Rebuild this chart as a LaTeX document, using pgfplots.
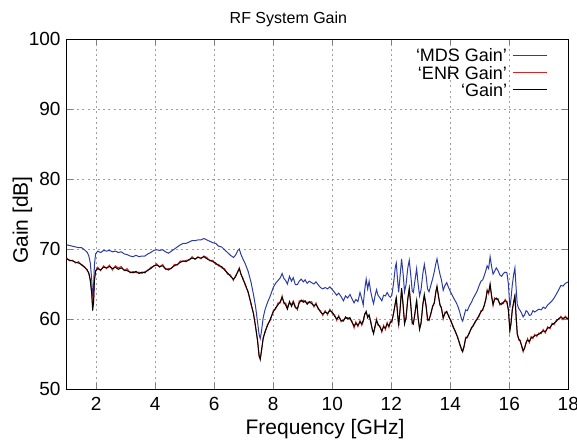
\documentclass[border=0pt]{standalone}
\usepackage{fontspec}
\setmainfont{Liberation Sans}
\usepackage{pgfplots}
\pgfplotsset{compat=1.18}
\usepackage{pgfplotstable}

\definecolor{mdsblue}{RGB}{45,60,165}
\definecolor{enrred}{RGB}{215,35,35}

% f [GHz], MDS gain, ENR gain, gain [dB]
\pgfplotstableread{
f mds enr gain
1.00 70.6 68.7 68.6
1.10 70.5 68.3 68.4
1.20 70.4 68.4 68.3
1.30 70.3 68.0 68.1
1.40 70.2 68.2 68.0
1.50 70.2 67.7 67.8
1.60 69.9 67.5 67.4
1.70 69.5 66.9 67.0
1.75 69.0 66.6 66.5
1.80 68.0 65.4 65.6
1.85 65.5 63.8 63.5
1.88 63.2 61.6 61.2
1.91 64.5 62.2 62.5
1.94 67.8 65.7 65.5
1.98 69.3 66.8 66.9
2.05 69.7 67.4 67.2
2.15 69.5 66.9 67.0
2.25 69.8 67.6 67.4
2.35 69.7 67.2 67.3
2.45 69.8 67.7 67.5
2.55 69.6 67.0 67.2
2.65 69.7 67.6 67.4
2.75 69.5 67.3 67.1
2.85 69.6 67.5 67.3
2.95 69.3 66.9 67.0
3.05 69.2 67.2 66.9
3.15 69.0 66.6 66.7
3.25 68.9 66.8 66.6
3.35 69.1 66.6 66.8
3.45 68.9 66.7 66.5
3.55 69.0 66.5 66.7
3.65 69.0 66.8 66.6
3.75 69.3 66.9 67.0
3.85 69.5 67.4 67.2
3.95 69.8 67.5 67.6
4.05 69.9 67.9 67.7
4.15 69.8 67.4 67.5
4.25 69.9 67.8 67.6
4.35 69.6 67.1 67.2
4.45 69.4 67.2 67.0
4.55 69.7 67.2 67.3
4.65 70.0 67.8 67.6
4.75 70.3 67.7 67.8
4.85 70.6 68.3 68.1
4.95 70.8 68.2 68.3
5.05 70.8 68.4 68.2
5.15 71.0 68.4 68.5
5.25 71.2 68.9 68.7
5.35 71.2 68.5 68.6
5.45 71.3 68.9 68.8
5.55 71.3 68.6 68.7
5.65 71.5 69.0 68.9
5.75 71.3 68.8 68.6
5.85 71.1 68.3 68.4
5.95 70.9 68.4 68.2
6.05 70.8 67.8 68.0
6.15 70.4 67.8 67.6
6.25 70.3 67.3 67.5
6.35 69.9 67.2 67.0
6.45 69.5 66.4 66.6
6.55 69.1 66.3 66.1
6.65 68.8 65.5 65.7
6.72 69.1 66.2 66.0
6.80 69.8 66.7 66.8
6.85 70.0 67.3 67.2
6.90 69.3 66.4 66.5
6.98 68.5 65.8 65.6
7.05 67.9 64.8 65.0
7.15 66.8 63.9 63.8
7.25 65.2 62.0 62.2
7.33 63.5 60.9 60.7
7.40 61.8 58.8 59.0
7.47 59.5 57.0 56.8
7.52 57.8 54.6 54.8
7.56 57.2 54.4 54.2
7.60 58.2 55.3 55.5
7.66 60.2 57.4 57.2
7.72 61.3 58.0 58.2
7.80 62.3 59.2 59.0
7.90 63.3 59.8 60.0
8.00 64.5 61.2 61.0
8.08 65.1 61.4 61.6
8.16 65.5 62.3 62.0
8.24 65.9 62.3 62.5
8.30 66.5 63.3 63.1
8.36 65.8 62.2 62.4
8.42 65.5 62.3 62.0
8.48 65.0 61.6 61.4
8.55 66.1 62.3 62.5
8.62 65.4 62.1 61.8
8.68 65.9 62.6 62.4
8.75 64.9 61.8 61.6
8.82 64.9 61.3 61.5
8.88 65.4 62.6 62.3
8.95 65.7 62.5 62.7
9.02 65.3 62.7 62.4
9.08 65.6 62.4 62.6
9.15 65.1 62.4 62.1
9.22 65.4 62.3 62.5
9.30 65.2 62.5 62.2
9.38 65.0 61.7 61.9
9.45 65.3 62.3 62.1
9.52 64.9 61.4 61.6
9.60 64.5 61.2 61.0
9.68 64.3 60.5 60.7
9.76 64.5 61.2 61.0
9.84 64.3 60.6 60.8
9.92 64.6 61.4 61.2
10.00 64.2 60.8 61.0
10.08 63.8 60.6 60.4
10.15 63.4 59.8 60.0
10.22 63.7 60.5 60.3
10.30 63.2 59.6 59.8
10.38 62.6 59.9 59.7
10.45 63.3 60.1 60.3
10.52 63.0 60.2 60.0
10.60 63.5 60.0 60.2
10.67 62.9 59.7 59.5
10.74 62.3 58.7 59.0
10.80 62.8 59.6 59.4
10.87 62.5 58.9 59.1
10.94 63.8 59.8 59.6
11.00 62.9 59.1 59.3
11.05 62.0 59.6 59.8
11.10 64.2 60.8 60.6
11.15 65.7 60.9 61.1
11.20 64.3 60.4 60.2
11.25 65.4 60.4 60.6
11.30 64.0 59.8 59.6
11.36 62.8 58.3 58.5
11.40 62.2 58.1 57.9
11.45 63.3 58.8 59.0
11.50 64.2 60.0 59.8
11.55 63.4 59.1 59.3
11.62 63.0 59.0 58.8
11.68 62.6 58.1 58.3
11.74 63.4 59.1 58.9
11.80 63.3 58.5 58.7
11.86 63.8 59.5 59.3
11.92 63.3 58.8 59.0
11.97 63.1 59.7 59.5
12.02 63.4 59.5 59.7
12.08 65.2 61.0 60.8
12.14 67.5 62.2 62.4
12.17 68.0 63.2 63.0
12.21 65.8 60.8 61.0
12.25 63.8 59.2 59.0
12.30 66.2 61.3 61.5
12.35 68.6 64.2 64.4
12.40 66.5 62.2 62.0
12.45 63.9 59.5 59.3
12.50 64.9 60.0 60.2
12.56 67.3 63.0 62.8
12.61 68.4 64.2 64.4
12.66 66.3 62.2 62.0
12.71 64.0 59.3 59.5
12.75 63.8 59.5 59.3
12.80 65.4 60.6 60.8
12.86 67.2 62.8 62.6
12.91 65.0 60.0 60.2
12.96 63.3 58.7 58.5
13.01 64.2 59.3 59.5
13.07 66.5 62.2 62.0
13.12 67.8 63.3 63.5
13.18 66.2 62.0 61.8
13.23 64.3 59.8 60.0
13.28 63.9 60.0 59.8
13.34 64.8 60.6 60.8
13.40 65.7 61.9 61.7
13.46 66.8 62.2 62.4
13.51 67.9 64.0 63.8
13.55 68.6 64.5 64.7
13.60 67.4 63.4 63.2
13.65 66.4 61.9 62.1
13.70 65.6 61.7 61.5
13.76 64.1 60.0 60.2
13.82 64.8 61.0 60.8
13.88 65.2 60.9 61.1
13.95 64.4 60.5 60.3
14.02 63.8 59.6 59.8
14.10 63.1 59.0 58.8
14.18 62.5 58.0 58.2
14.25 61.9 57.5 57.3
14.32 61.0 56.3 56.5
14.38 60.0 55.8 55.6
14.42 59.7 55.5 55.3
14.47 60.5 56.0 56.2
14.52 61.3 57.4 57.2
14.58 61.2 57.3 57.5
14.65 61.9 58.2 58.0
14.72 62.4 58.6 58.8
14.78 63.0 59.2 59.0
14.85 63.5 59.5 59.7
14.92 64.1 60.2 60.0
14.98 64.8 60.4 60.6
15.04 65.4 61.2 61.0
15.10 65.6 61.2 61.4
15.16 66.3 62.2 62.0
15.21 67.0 62.8 63.0
15.25 67.6 64.2 64.0
15.30 67.2 63.6 63.8
15.35 68.9 64.8 65.0
15.40 67.5 63.4 63.2
15.45 66.4 61.9 62.1
15.50 66.8 63.0 62.8
15.56 67.3 62.8 63.0
15.62 66.9 62.9 62.7
15.68 66.3 62.0 62.2
15.74 66.1 62.3 62.1
15.80 66.5 62.2 62.4
15.86 66.7 62.8 62.6
15.92 66.6 62.3 62.5
15.97 65.0 61.4 61.2
16.02 61.6 58.5 58.3
16.06 63.0 59.3 59.5
16.10 64.8 61.4 61.2
16.15 66.4 62.3 62.5
16.19 67.3 63.5 63.3
16.23 64.5 60.3 60.5
16.27 62.1 58.0 57.8
16.32 61.5 57.0 57.2
16.37 61.2 57.0 56.8
16.42 60.8 56.0 56.2
16.47 60.3 55.3 55.5
16.52 60.6 56.0 55.8
16.57 61.2 56.5 56.7
16.62 61.0 57.2 57.0
16.68 60.5 56.6 56.8
16.74 60.6 57.5 57.3
16.80 61.2 57.2 57.4
16.86 61.0 57.8 57.6
16.93 61.2 57.5 57.7
17.00 61.4 58.0 57.8
17.08 61.3 57.9 58.1
17.15 61.7 58.5 58.3
17.22 61.5 58.0 58.2
17.30 62.0 58.9 58.7
17.38 62.3 58.6 58.8
17.45 62.6 59.4 59.2
17.52 63.0 59.2 59.4
17.60 63.6 59.9 59.7
17.68 64.2 59.9 60.1
17.75 64.8 60.4 60.2
17.82 64.7 59.9 60.1
17.90 65.1 60.4 60.2
18.00 65.3 60.0 60.0
}\gaindata

\begin{document}
\begin{tikzpicture}
\begin{axis}[
    scale only axis,
    width=250.8pt, height=175pt,
    xmin=1, xmax=18, ymin=50, ymax=100,
    xtick={2,4,...,18}, ytick={50,60,...,100},
    tick align=inside, major tick length=3pt,
    grid=major,
    major grid style={gray!75, line width=0.4pt, dash pattern=on 1pt off 1.6pt},
    axis line style={line width=0.5pt},
    /pgf/number format/assume math mode=true,
    tick label style={font=\fontsize{9.5}{11}\selectfont, inner sep=0pt},
    xticklabel shift=4pt, yticklabel shift=2.9pt,
    every axis title shift=0pt,
    title={RF System Gain},
    title style={font=\fontsize{8}{10}\selectfont, at={(axis description cs:0.442,1.044)}, anchor=base, inner sep=0pt},
    xlabel={Frequency [GHz]},
    xlabel style={font=\fontsize{10.5}{12}\selectfont, at={(axis description cs:0.515,-0.1286)}, anchor=base, inner sep=0pt},
    ylabel={Gain [dB]},
    ylabel style={font=\fontsize{10.5}{12}\selectfont, at={(axis description cs:-0.0773,0.483)}, anchor=base, inner sep=0pt},
    legend plot pos=right,
    legend cell align=right,
    legend image code/.code={
        \path (0cm,0cm);
        \draw[#1] (0.09cm,0cm) -- (0.7cm,0cm);
    },
    legend style={at={(axis description cs:0.972,0.985)}, anchor=north east,
        draw=none, fill=none, font=\fontsize{9}{10}\selectfont,
        row sep=2pt,
        nodes={inner sep=0pt, text height=6.6pt, text depth=0pt}},
    every axis plot/.append style={line width=0.5pt},
]
\addplot[mdsblue] table[x=f, y=mds] {\gaindata};
\addplot[enrred] table[x=f, y=enr] {\gaindata};
\addplot[black] table[x=f, y=gain] {\gaindata};
\legend{‘MDS Gain’, ‘ENR Gain’, ‘Gain’}
\end{axis}
\pgfresetboundingbox
\path[use as bounding box] (-33.35pt,-25.5pt) rectangle (255.15pt,194.5pt);
\end{tikzpicture}
\end{document}
